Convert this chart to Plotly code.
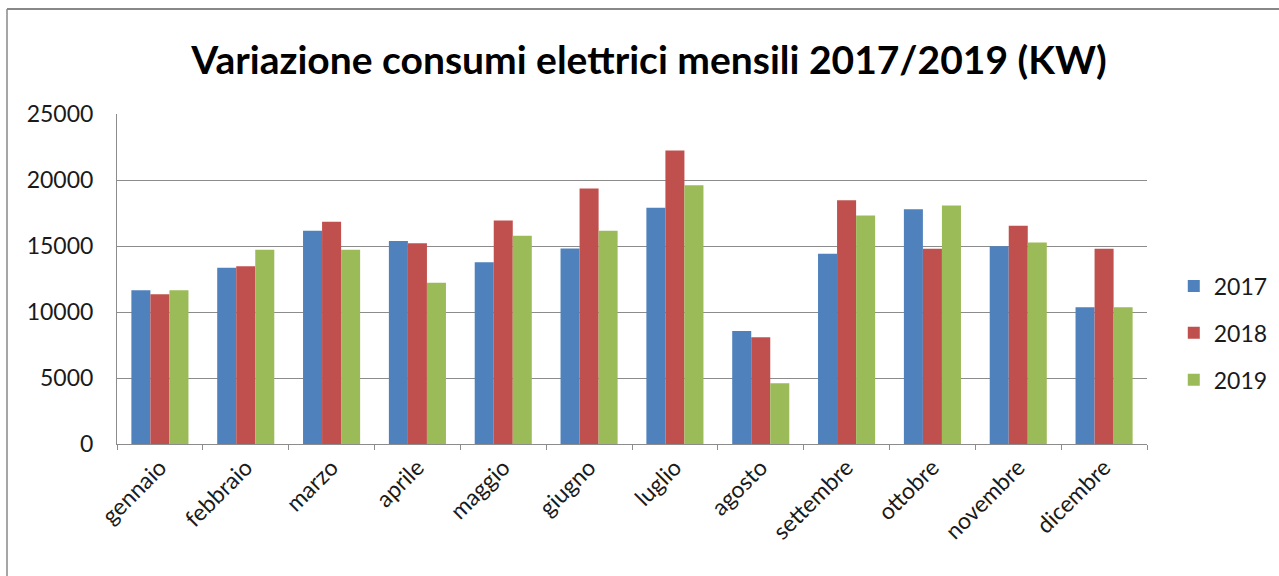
import plotly.graph_objects as go

# Monthly electricity consumption (kW), 2017-2019
mesi = ["gennaio", "febbraio", "marzo", "aprile", "maggio", "giugno",
        "luglio", "agosto", "settembre", "ottobre", "novembre", "dicembre"]
anni = ["2017", "2018", "2019"]
consumi_2017 = [11650, 13350, 16150, 15370, 13760, 14820, 17890, 8570, 14410, 17790, 14990, 10360]
consumi_2018 = [11340, 13460, 16830, 15200, 16930, 19350, 22230, 8090, 18470, 14790, 16530, 14790]
consumi_2019 = [11640, 14720, 14720, 12220, 15780, 16150, 19610, 4610, 17310, 18070, 15270, 10360]
colori = ["#4F81BD", "#C0504D", "#9BBB59"]

FONT = "Lato"

fig = go.Figure()
for i, (anno, valori) in enumerate(zip(anni, [consumi_2017, consumi_2018, consumi_2019])):
    fig.add_trace(go.Bar(
        x=mesi, y=valori, name=anno, legendgroup=anno,
        marker=dict(color=colori[i], line=dict(width=0)),
    ))

fig.update_layout(
    width=1279, height=576,
    margin=dict(l=117, r=132, t=114, b=132, autoexpand=False),
    paper_bgcolor="white", plot_bgcolor="white",
    barmode="group", bargap=0.335, bargroupgap=0,
    title=dict(text="<b>Variazione consumi elettrici mensili 2017/2019 (KW)</b>",
               x=(649 - 117) / 1030, xref="paper", xanchor="center",
               y=1 - 60 / 576, yref="container", yanchor="middle",
               font=dict(family=FONT, size=39, color="#000000")),
    legend=dict(x=1.026, xanchor="left", y=(444 - 333) / 330, yanchor="middle",
                font=dict(family=FONT, size=23, color="#1a1a1a"),
                traceorder="grouped", tracegroupgap=14,
                itemwidth=30, bgcolor="rgba(0,0,0,0)"),
    font=dict(family=FONT, color="#1a1a1a"),
    shapes=[
        dict(type="line", xref="paper", yref="paper",
             x0=(7 - 117) / 1030, x1=(1279 - 117) / 1030,
             y0=(444 - 9) / 330, y1=(444 - 9) / 330,
             line=dict(color="#888888", width=2)),
        dict(type="line", xref="paper", yref="paper",
             x0=(7 - 117) / 1030, x1=(7 - 117) / 1030,
             y0=(444 - 9) / 330, y1=(444 - 580) / 330,
             line=dict(color="#888888", width=1.5)),
    ],
)

fig.update_yaxes(
    range=[0, 25000], tickvals=[0, 5000, 10000, 15000, 20000, 25000],
    ticktext=["0", "5000", "10000", "15000", "20000", "25000"],
    showgrid=True, gridcolor="#8c8c8c", gridwidth=1,
    showline=True, linecolor="#8c8c8c", linewidth=1,
    ticks="", ticklabelstandoff=18,
    tickfont=dict(family=FONT, size=23, color="#1a1a1a"),
    zeroline=False,
)
fig.update_xaxes(
    showline=True, linecolor="#8c8c8c", linewidth=1,
    ticks="outside", tickson="boundaries", ticklen=5, tickcolor="#8c8c8c",
    tickangle=-45, tickfont=dict(family=FONT, size=23, color="#1a1a1a"),
    showgrid=False,
)

fig.write_html("out.html")
